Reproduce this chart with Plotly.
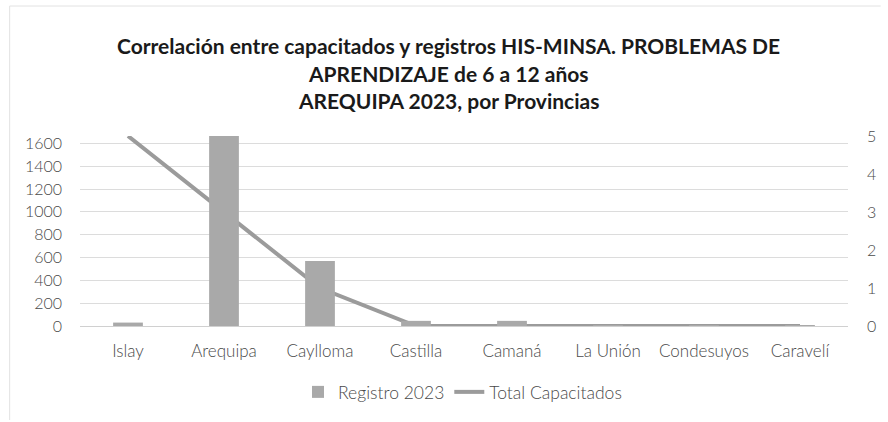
import plotly.graph_objects as go

categories = ["Islay", "Arequipa", "Caylloma", "Castilla", "Camaná", "La Unión", "Condesuyos", "Caravelí"]
registro_2023 = [30, 1665, 570, 45, 45, 8, 6, 8]
total_capacitados = [5, 3, 1, 0, 0, 0, 0, 0]
left_ticks = [0, 200, 400, 600, 800, 1000, 1200, 1400, 1600]
right_ticks = [0, 1, 2, 3, 4, 5]
title_lines = [
    "Correlación entre capacitados y registros HIS-MINSA. PROBLEMAS DE",
    "APRENDIZAJE de 6 a 12 años",
    "AREQUIPA 2023, por Provincias",
]

W, H = 888, 422
ML, MR, MT, MB = 80, 33, 136, 96
PW, PH = W - ML - MR, H - MT - MB

def px_x(x):
    return (x - ML) / PW

def px_y(y):
    return (H - MB - y) / PH

FONT = "Lato"
TICK_COLOR = "#4a4a4a"
TF = dict(family=FONT, size=16, color=TICK_COLOR, weight=300)
XF = dict(family=FONT, size=17, color=TICK_COLOR, weight=300)
LF = dict(family=FONT, size=17.5, color=TICK_COLOR, weight=300)

fig = go.Figure()
fig.add_trace(go.Bar(
    x=categories, y=registro_2023, name="Registro 2023",
    marker=dict(color="#a9a9a9", line=dict(width=0)),
    width=0.31, yaxis="y2",
))
fig.add_trace(go.Scatter(
    x=categories, y=total_capacitados, name="Total Capacitados",
    mode="lines", line=dict(color="#9b9b9b", width=4), yaxis="y",
))

fig.update_layout(
    width=W, height=H,
    margin=dict(l=ML, r=MR, t=MT, b=MB),
    paper_bgcolor="white", plot_bgcolor="white",
    font=TF,
    showlegend=True,
    legend=dict(orientation="h", x=px_x(466), xanchor="center", y=px_y(392), yanchor="middle",
                font=LF, itemwidth=30, traceorder="normal"),
    xaxis=dict(type="category", showgrid=False, showline=True, linecolor="#d0d0d0", linewidth=1,
               ticks="", ticklabelstandoff=10, tickfont=XF),
    yaxis=dict(side="right", range=[0, 5], tickvals=right_ticks, showgrid=False, zeroline=False,
               showline=False, ticks="", ticklabelstandoff=18, tickfont=TF),
    yaxis2=dict(side="left", overlaying="y", range=[0, 1665], tickvals=left_ticks, showgrid=True,
                gridcolor="#dcdcdc", gridwidth=1, zeroline=False, showline=False, ticks="",
                ticklabelstandoff=17, tickfont=TF),
    bargap=0.69,
)

title_y = [45, 73, 100]
for txt, yy in zip(title_lines, title_y):
    fig.add_annotation(text="<b>" + txt + "</b>", xref="paper", yref="paper",
                       x=px_x(452), y=px_y(yy), xanchor="center", yanchor="middle",
                       showarrow=False, font=dict(family=FONT, size=21, color="#1a1a1a"))

# faint chart border
fig.add_shape(type="line", xref="paper", yref="paper", x0=px_x(9), x1=px_x(888), y0=px_y(6), y1=px_y(6),
              line=dict(color="#e2e2e2", width=1))
fig.add_shape(type="line", xref="paper", yref="paper", x0=px_x(9), x1=px_x(9), y0=px_y(6), y1=px_y(420),
              line=dict(color="#e2e2e2", width=1))

fig.write_html("out.html", config={"displayModeBar": False},
               post_script="document.body.style.margin='0';document.body.style.overflow='hidden';")
